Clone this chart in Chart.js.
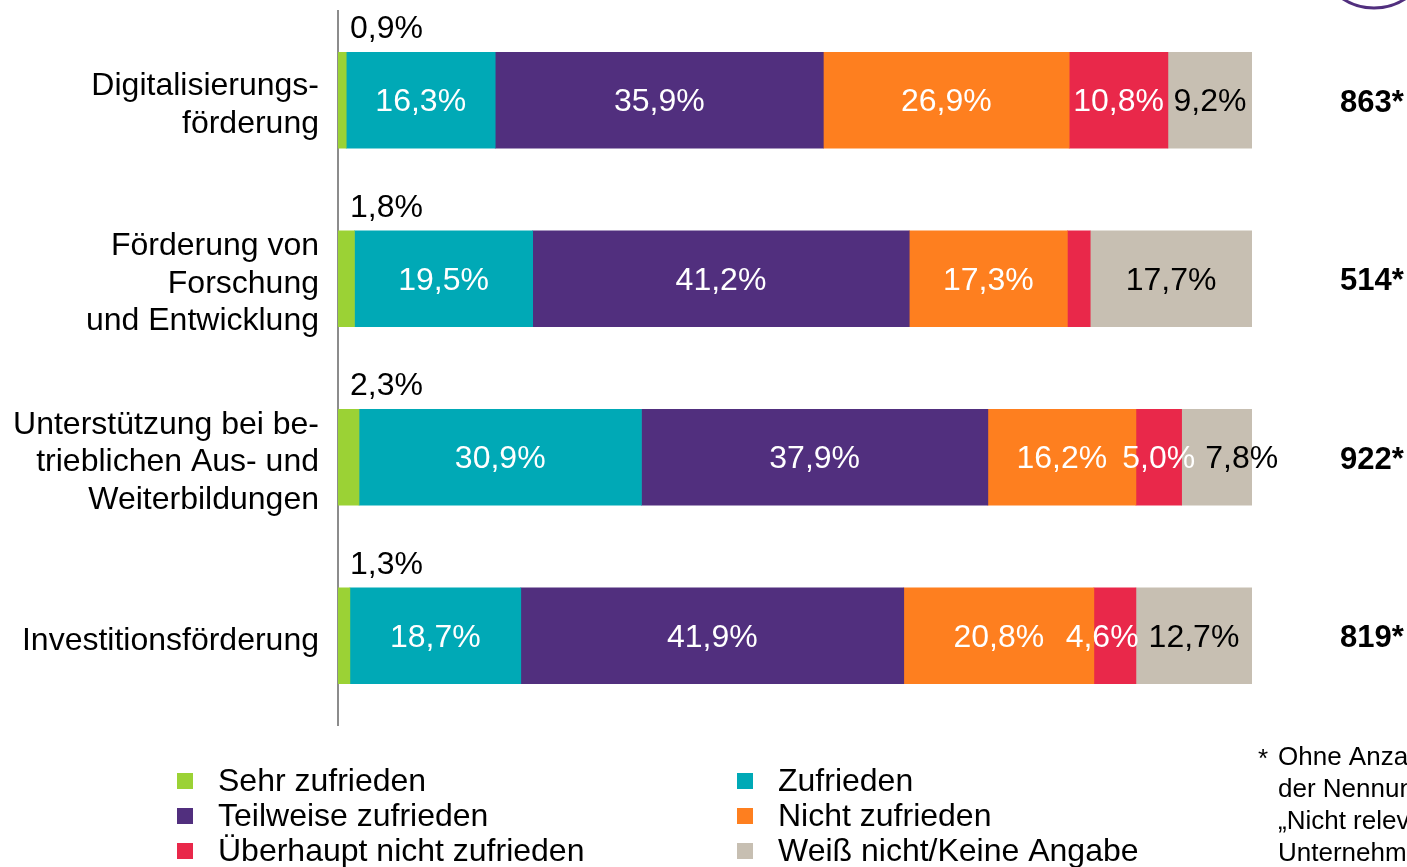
<!DOCTYPE html>
<html>
<head>
<meta charset="utf-8">
<script src="https://cdn.jsdelivr.net/npm/chart.js@4"></script>
<style>
  body { margin: 0; background: #fff; }
  #wrap { position: relative; width: 1407px; height: 867px; }
</style>
</head>
<body>
<div id="wrap"><canvas id="satChart"></canvas></div>
<script>
const categories = [
    ['Digitalisierungs-', 'förderung'],
    ['Förderung von', 'Forschung', 'und Entwicklung'],
    ['Unterstützung bei be-', 'trieblichen Aus- und', 'Weiterbildungen'],
    ['Investitionsförderung']
];
const seriesNames = ['Sehr zufrieden', 'Zufrieden', 'Teilweise zufrieden', 'Nicht zufrieden', 'Überhaupt nicht zufrieden', 'Weiß nicht/Keine Angabe'];
const sehrZufrieden = [0.9, 1.8, 2.3, 1.3];
const zufrieden = [16.3, 19.5, 30.9, 18.7];
const teilweise = [35.9, 41.2, 37.9, 41.9];
const nichtZufrieden = [26.9, 17.3, 16.2, 20.8];
const ueberhauptNicht = [10.8, 2.5, 5.0, 4.6];
const weissNicht = [9.2, 17.7, 7.8, 12.7];
const nValues = ['863*', '514*', '922*', '819*'];
const footnote = ['Ohne Anzahl', 'der Nennungen', '„Nicht relevant für', 'Unternehmen“)'];

const colors = ['#9bd235', '#00a9b6', '#512f7e', '#fe7f1f', '#e9284a', '#c7bfb2'];
const labelColors = ['#000', '#fff', '#fff', '#fff', '#fff', '#000'];
const FONT = '"Liberation Sans", Arial, sans-serif';

const fmt = v => v.toFixed(1).replace('.', ',') + '%';

const seriesData = [sehrZufrieden, zufrieden, teilweise, nichtZufrieden, ueberhauptNicht, weissNicht];

const segLabels = {
    id: 'segLabels',
    afterDatasetsDraw(chart) {
        const ctx = chart.ctx;
        ctx.save();
        ctx.font = '32px ' + FONT;
        ctx.textBaseline = 'middle';
        chart.data.labels.forEach((_, i) => {
            // collect labels of this row, then push apart the ones that collide
            const items = [];
            chart.data.datasets.forEach((ds, di) => {
                const p = chart.getDatasetMeta(di).data[i].getProps(['x', 'y', 'base', 'height'], true);
                const v = ds.data[i];
                const txt = fmt(v);
                if (di === 0) {
                    ctx.fillStyle = '#000';
                    ctx.textAlign = 'left';
                    ctx.fillText(txt, p.base + 12, p.y - p.height / 2 - 23);
                    return;
                }
                if (v < 3) return;
                const w = ctx.measureText(txt).width;
                items.push({ txt, w, cx: (p.x + p.base) / 2, y: p.y, color: labelColors[di] });
            });
            for (let k = 1; k < items.length; k++) {
                const a = items[k - 1], b = items[k];
                const gap = (b.cx - b.w / 2) - (a.cx + a.w / 2);
                if (gap >= 6) continue;
                const need = 10 - gap;
                const prev = items[k - 2];
                const room = prev ? (a.cx - a.w / 2) - (prev.cx + prev.w / 2) - 10 : Infinity;
                if (room >= need) a.cx -= need;
                else b.cx += need;
            }
            items.forEach(it => {
                ctx.fillStyle = it.color;
                ctx.textAlign = 'center';
                ctx.fillText(it.txt, it.cx, it.y + 2);
            });
        });
        // N per row
        ctx.font = 'bold 31px ' + FONT;
        ctx.fillStyle = '#000';
        ctx.textAlign = 'left';
        const meta = chart.getDatasetMeta(0);
        nValues.forEach((n, i) => {
            ctx.fillText(n, 1340, meta.data[i].y + 3);
        });
        ctx.restore();
    },
    afterDraw(chart) {
        const ctx = chart.ctx;
        ctx.save();
        // legend
        ctx.font = '32px ' + FONT;
        ctx.textBaseline = 'middle';
        ctx.textAlign = 'left';
        chart.data.datasets.forEach((ds, k) => {
            const col = k % 2, row = Math.floor(k / 2);
            const x = [177, 737][col];
            const y = 781 + row * 35;
            ctx.fillStyle = ds.backgroundColor;
            ctx.fillRect(x, y - 8, 16, 16);
            ctx.fillStyle = '#000';
            ctx.fillText(ds.label, x + 41, y + 1);
        });
        // footnote
        ctx.font = '26px ' + FONT;
        ctx.fillText('*', 1258, 760);
        footnote.forEach((line, i) => ctx.fillText(line, 1278, 758 + i * 32));
        // logo ring
        ctx.strokeStyle = '#512f7e';
        ctx.lineWidth = 3;
        ctx.beginPath();
        ctx.arc(1374, -49, 57, 0, Math.PI * 2);
        ctx.stroke();
        ctx.restore();
    }
};

new Chart(document.getElementById('satChart').getContext('2d'), {
    type: 'bar',
    data: {
        labels: categories,
        datasets: seriesNames.map((name, k) => ({
            label: name,
            data: seriesData[k],
            backgroundColor: colors[k],
            borderWidth: 0,
            barThickness: 96
        }))
    },
    options: {
        indexAxis: 'y',
        responsive: true,
        maintainAspectRatio: false,
        animation: false,
        layout: { padding: { left: 0, right: 155, top: 11, bottom: 142 } },
        plugins: {
            legend: { display: false },
            tooltip: { enabled: false }
        },
        scales: {
            x: { stacked: true, min: 0, max: 100, display: false },
            y: {
                stacked: true,
                afterFit: scale => {
                    scale.width = 338;
                    scale.paddingTop = 0;
                    scale.paddingBottom = 0;
                },
                grid: { display: false, drawTicks: false },
                border: { display: true, color: '#8c8c8c', width: 2 },
                ticks: {
                    color: '#000',
                    padding: 19,
                    labelOffset: 5,
                    font: { family: FONT, size: 32, lineHeight: 1.17 }
                }
            }
        }
    },
    plugins: [segLabels]
});
</script>
</body>
</html>
